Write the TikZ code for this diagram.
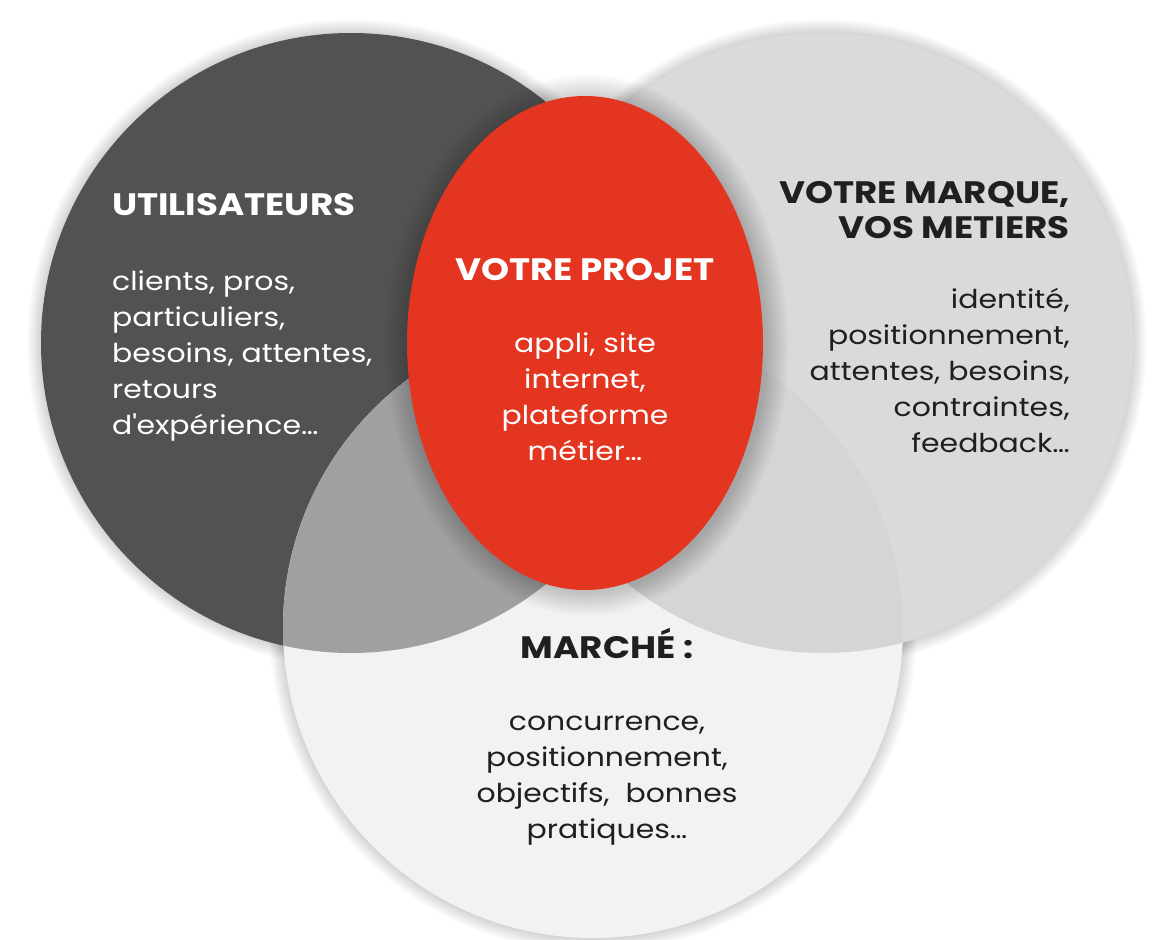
\documentclass[tikz,border=0pt]{standalone}
\usepackage{fontspec}
\setmainfont{Poppins}[FakeStretch=1.15]
\usepackage{xcolor}
\usepackage{tikz}
\usetikzlibrary{positioning}

\definecolor{usersgray}{HTML}{525252}
\definecolor{brandgray}{HTML}{DADADA}
\definecolor{marketgray}{HTML}{F2F2F2}
\definecolor{usersmarket}{HTML}{A0A0A0}
\definecolor{brandmarket}{HTML}{D5D5D5}
\definecolor{projectred}{HTML}{E3351F}
\definecolor{inkdark}{HTML}{1F1F1F}

\begin{document}
\begin{tikzpicture}[x=1pt, y=-1pt,
  title/.style={font=\bfseries\fontsize{31}{35}\selectfont, inner sep=0pt},
  body/.style={font=\fontsize{26}{36}\selectfont, inner sep=0pt},
  halo/.style={black, opacity=0.01},
  redhalo/.style={black, opacity=0.011}
]
\useasboundingbox[fill=white] (0,0) rectangle (1174,939);

\coordinate (users) at (351,343);
\coordinate (brand) at (823,343);
\coordinate (market) at (593,628);
\coordinate (project) at (585,343);

% soft halos first, so no circle shades another
\foreach \c in {users,brand,market}
  \foreach \r in {1,...,14}
    \fill[halo] (\c) circle[radius=310+\r];

\fill[usersgray] (users) circle[radius=310];
\fill[brandgray] (brand) circle[radius=310];
\fill[marketgray] (market) circle[radius=310];

% overlaps with the market circle
\begin{scope}
  \clip (market) circle[radius=310];
  \fill[usersmarket] (users) circle[radius=310];
  \fill[brandmarket] (brand) circle[radius=310];
\end{scope}

% shade round the project
\foreach \r in {1,...,16}
  \fill[redhalo] ([shift={(2,2)}]project) ellipse[x radius=178+1.5*\r, y radius=247+1.5*\r];
\fill[projectred] (project) ellipse[x radius=178, y radius=247];

% texts
\node[title, text=white, anchor=base west] (userstitle) at (112,215) {UTILISATEURS};
\node[body, text=white, anchor=base west, align=left] (usersbody) at (112,434)
  {clients, pros,\\particuliers,\\besoins, attentes,\\retours\\d\textquotesingle expérience…};

\node[title, text=white, anchor=base] (projecttitle) at (585,280) {VOTRE PROJET};
\node[body, text=white, anchor=base, align=center] (projectbody) at (585,460)
  {appli, site\\internet,\\plateforme\\métier…};

\node[title, text=inkdark, anchor=base east, align=right] (brandtitle) at (1070,238)
  {VOTRE MARQUE,\\VOS METIERS};
\node[body, text=inkdark, anchor=base east, align=right] (brandbody) at (1070,452)
  {identité,\\positionnement,\\attentes, besoins,\\contraintes,\\feedback…};

\node[title, text=inkdark, anchor=base] (markettitle) at (607,658) {MARCHÉ :};
\node[body, text=inkdark, anchor=base, align=center] (marketbody) at (607,838)
  {concurrence,\\positionnement,\\objectifs,\ \ bonnes\\pratiques…};
\end{tikzpicture}
\end{document}
